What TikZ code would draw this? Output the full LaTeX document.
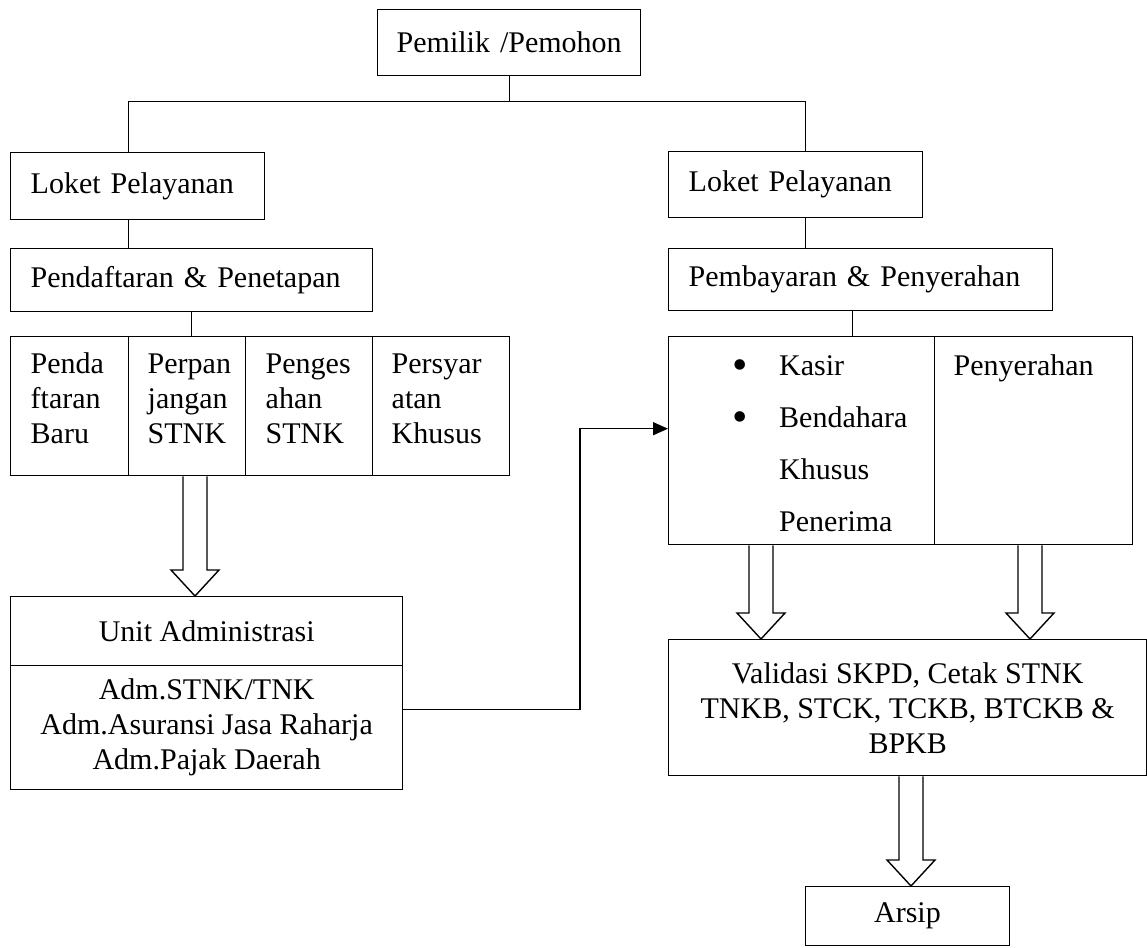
\documentclass[tikz,border=0pt]{standalone}
\usepackage{fontspec}
\setmainfont{Liberation Serif}
\usetikzlibrary{calc,arrows.meta}

\newcommand{\butir}[1]{\makebox[110.5pt][l]{\hspace*{63.8pt}\raisebox{-4pt}{\fontsize{44}{44}\selectfont\textbullet}}#1}
\newcommand{\panahblok}[2]{%
  \draw[fill=white] let \p1=(#1), \p2=(#2) in
    (\x2-12pt,\y1) -- (\x2-12pt,\y2+26pt) -- (\x2-24pt,\y2+26pt) -- (\x2,\y2)
    -- (\x2+24pt,\y2+26pt) -- (\x2+12pt,\y2+26pt) -- (\x2+12pt,\y1);}

\begin{document}
\begin{tikzpicture}[x=1pt,y=-1pt,line width=1.4pt,
    kotak/.style={draw,anchor=north west,inner xsep=19pt,align=left,
      font=\fontsize{30}{35}\selectfont},
    tengah/.style={draw,anchor=north west,inner sep=0pt,align=center,
      font=\fontsize{30}{35}\selectfont},
    kolom/.style={kotak,inner ysep=17pt,text height=20pt,text depth=85pt}]

    \useasboundingbox (0,0) rectangle (1147,947);

    \node[kotak,text width=225pt,minimum height=66pt] (pemilik) at (377,9) {\mbox{Pemilik /Pemohon}};

    \node[kotak,inner xsep=20pt,text width=214pt,minimum height=67pt] (loketA) at (10,152) {\mbox{Loket Pelayanan}};
    \node[kotak,inner xsep=20pt,text width=322pt,minimum height=63pt] (daftar) at (10,248) {\mbox{Pendaftaran \& Penetapan}};
    \node[kotak,inner xsep=20pt,text width=214pt,minimum height=66pt] (loketB) at (668,151) {\mbox{Loket Pelayanan}};
    \node[kotak,inner xsep=20pt,text width=344pt,minimum height=62pt] (bayar) at (668,248) {\mbox{Pembayaran \& Penyerahan}};

    \node[kolom,inner xsep=20pt,text width=78pt] (c1) at (10,336) {Penda\\ftaran\\Baru};
    \node[kolom,text width=79pt] (c2) at (128,336) {Perpan\\jangan\\STNK};
    \node[kolom,inner xsep=20pt,text width=87pt] (c3) at (245,336) {Penges\\ahan\\STNK};
    \node[kolom,text width=99pt] (c4) at (372,336) {Persyar\\atan\\Khusus};

    \node[kotak,inner xsep=0pt,inner ysep=19pt,text width=266pt,text height=20pt,text depth=150pt,
      font=\fontsize{30}{52}\selectfont] (kasir) at (668,336)
      {\butir{Kasir}\\\butir{Bendahara}\\\hspace*{110.5pt}Khusus\\\hspace*{110.5pt}Penerima};
    \node[kotak,inner ysep=19pt,text width=160pt,text height=20pt,text depth=150pt] (serah) at (934,336) {Penyerahan};

    \node[tengah,minimum width=392pt,minimum height=69pt] (unitA) at (10,596) {Unit Administrasi};
    \node[tengah,minimum width=392pt,minimum height=124pt] (unitB) at (10,665)
      {Adm.STNK/TNK\\Adm.Asuransi Jasa Raharja\\Adm.Pajak Daerah};
    \node[tengah,minimum width=478pt,minimum height=136pt] (validasi) at (668,639)
      {Validasi SKPD, Cetak STNK\\TNKB, STCK, TCKB, BTCKB \&\\BPKB};
    \node[tengah,minimum width=204.5pt,minimum height=59pt] (arsip) at (804.5,886) {Arsip};

    \coordinate (cabang) at ($(pemilik.south)+(0,25)$);
    \draw (pemilik.south) -- (cabang);
    \draw ($(loketA.north)+(-9,0)$) |- (cabang) -| ($(loketB.north)+(9.5,0)$);
    \draw ($(loketA.south)+(-9,0)$) coordinate (kiri) -- (kiri |- daftar.north);
    \draw (daftar.south) -- (daftar.south |- c2.north);
    \draw ($(loketB.south)+(9.5,0)$) coordinate (kanan) -- (kanan |- bayar.north);
    \draw ($(bayar.south)+(-8,0)$) coordinate (bawah) -- (bawah |- kasir.north);
    \draw[-{Triangle[length=15pt,width=13pt]}] ($(unitB.east)+(0,-18)$) -- ++(176.6,0) |- ($(kasir.west)+(0,-12)$);

    \panahblok{c2.south}{$(unitA.north west)+(185,0)$}
    \panahblok{kasir.south}{$(validasi.north west)+(93,0)$}
    \panahblok{serah.south}{$(validasi.north west)+(362,0)$}
    \panahblok{validasi.south}{$(arsip.north west)+(106.5,0)$}
\end{tikzpicture}
\end{document}
